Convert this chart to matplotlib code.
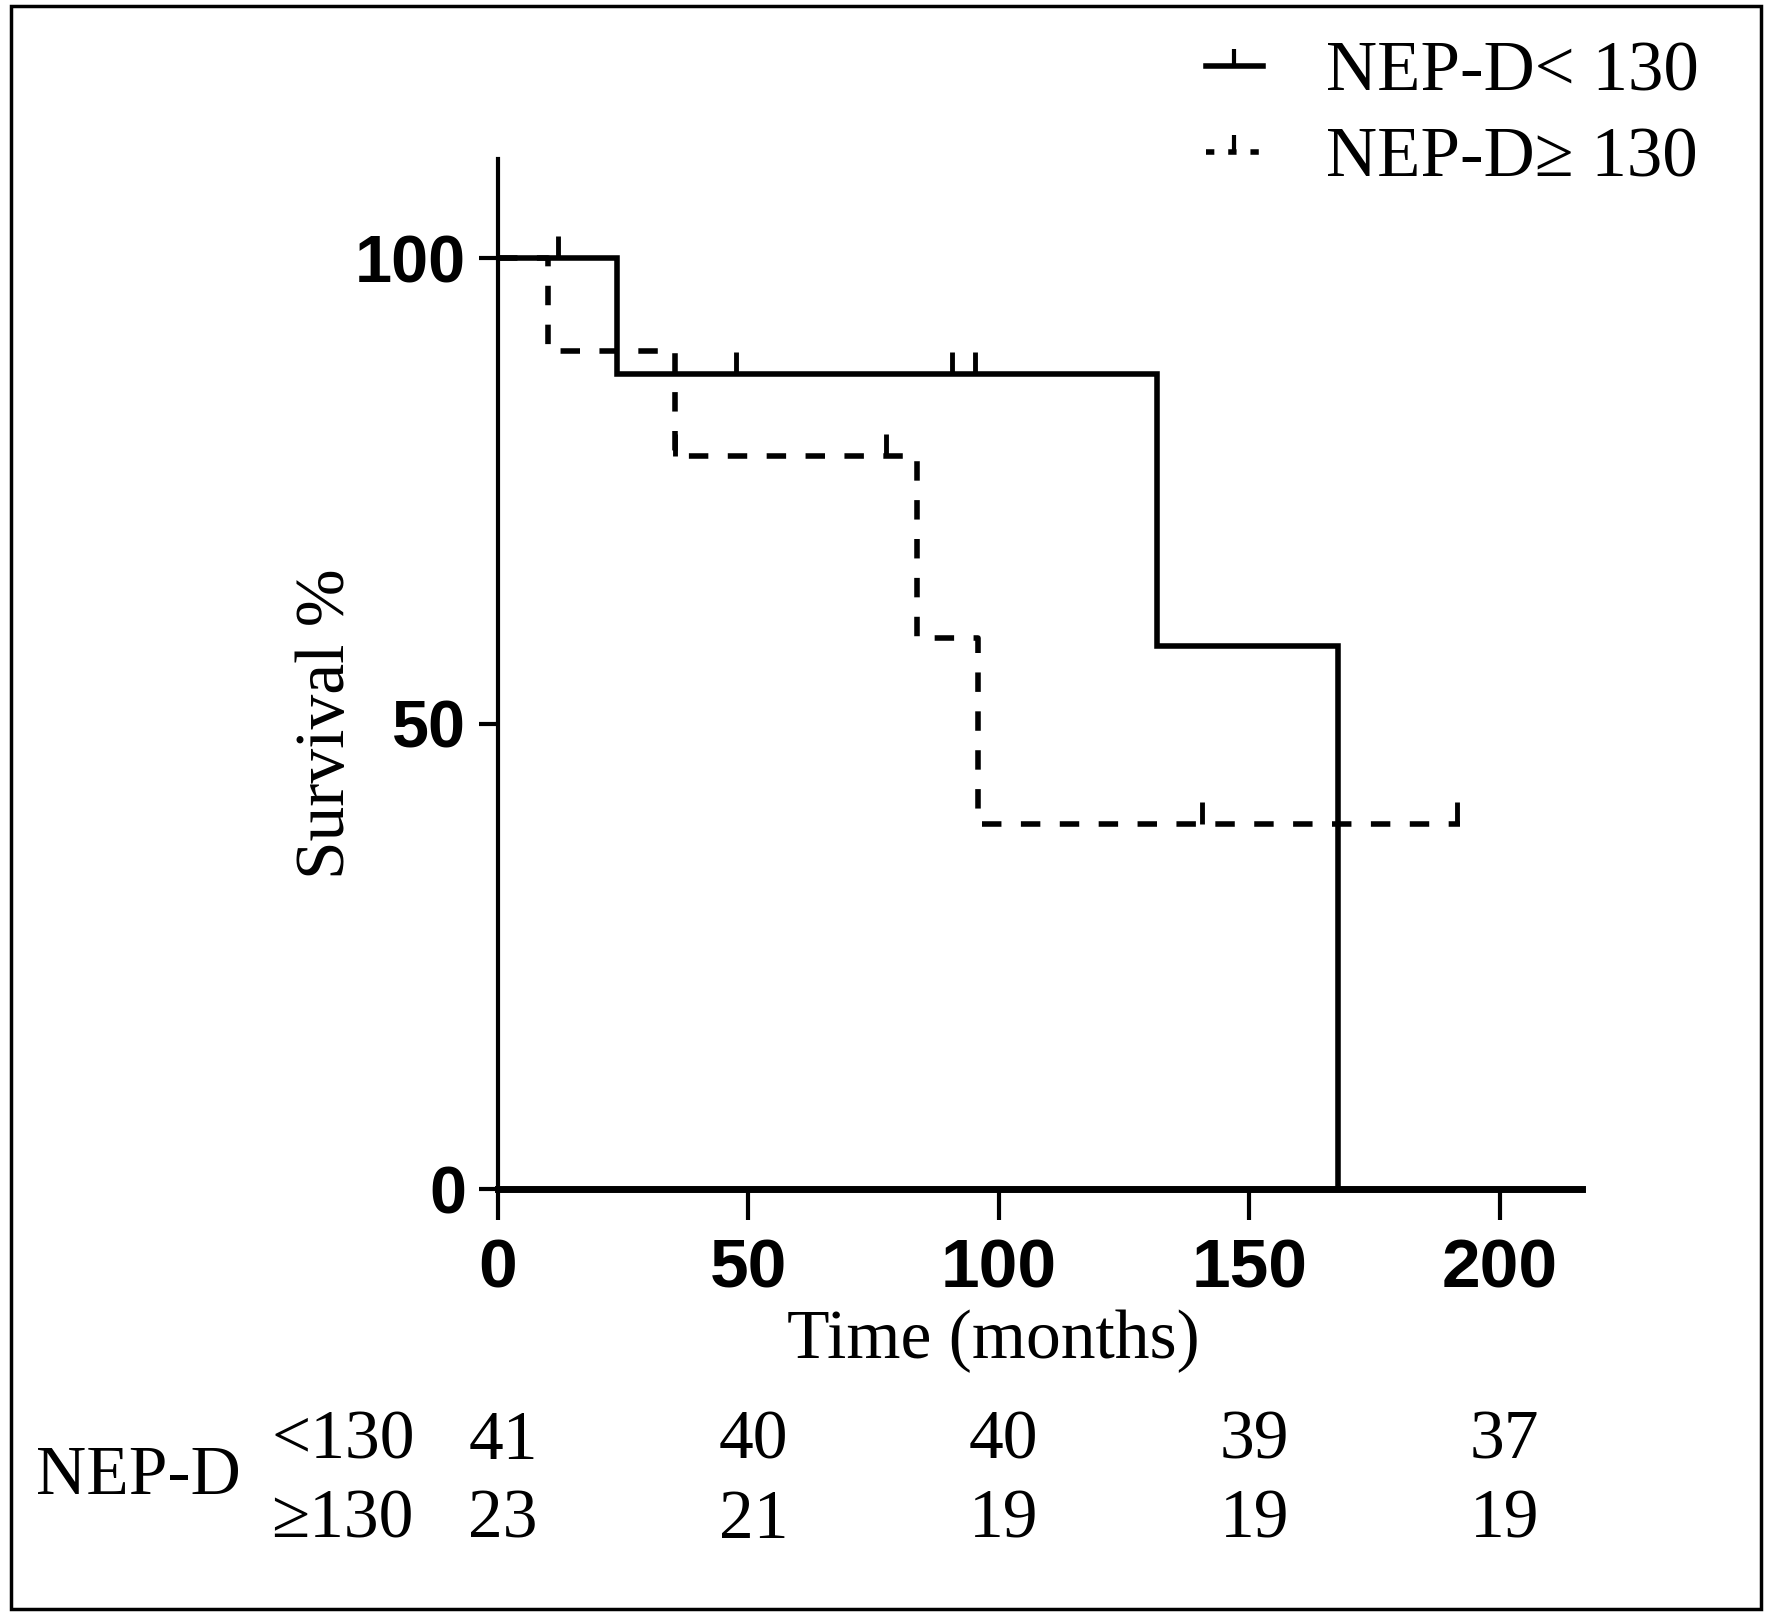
import numpy as np
import matplotlib
matplotlib.use("Agg")
import matplotlib.pyplot as plt
from matplotlib.path import Path
from matplotlib.lines import Line2D
from matplotlib.patches import Rectangle
from matplotlib.transforms import blended_transform_factory
from matplotlib import font_manager

# Kaplan-Meier steps (months, survival %)
low_times = [0, 23.8, 131.6, 167.8]
low_surv = [100, 87.6, 58.3, 0]
low_censor = [12, 47.6, 90.7, 95.3]

high_times = [0, 10, 35.3, 83.7, 95.8, 192]
high_surv = [100, 90.0, 78.8, 59.2, 39.2, 39.2]
high_censor = [35.3, 77.5, 140.5, 191.5]

risk_times = [0, 50, 100, 150, 200]
risk_low = [41, 40, 40, 39, 37]
risk_high = [23, 21, 19, 19, 19]

x_ticks = [0, 50, 100, 150, 200]
y_ticks = [0, 50, 100]

serif = ['Liberation Serif', 'DejaVu Serif']
names = {f.name for f in font_manager.fontManager.ttflist}
narrow = 'Liberation Sans Narrow' if 'Liberation Sans Narrow' in names else 'Liberation Sans'


def level_at(times, surv, t):
    """survival value of a step curve at time t"""
    i = np.searchsorted(times, t, side='right') - 1
    return surv[i]


# upward censor tick
tick_mark = Path([(0, 0), (0, 1)])

fig = plt.figure(figsize=(17.72, 16.2), dpi=100)
ax = fig.add_axes([0.281, 0.266, 0.612, 0.636])

ax.step(low_times, low_surv, where='post', color='black', lw=4, solid_joinstyle='miter')
ax.step(high_times, high_surv, where='post', color='black', lw=4, linestyle=(0, (3.5, 3.5)))

ax.plot(low_censor, [level_at(low_times, low_surv, t) for t in low_censor],
        linestyle='none', marker=tick_mark, markersize=32, markeredgewidth=3.5, color='black')
ax.plot(high_censor, [level_at(high_times, high_surv, t) for t in high_censor],
        linestyle='none', marker=tick_mark, markersize=32, markeredgewidth=3.5, color='black')

ax.set_xlim(0, 216.5)
ax.set_ylim(0, 110.7)
ax.spines['top'].set_visible(False)
ax.spines['right'].set_visible(False)
ax.spines['bottom'].set_linewidth(5)
ax.spines['left'].set_linewidth(3)
ax.set_xticks(x_ticks)
ax.set_yticks(y_ticks)
ax.tick_params(axis='x', length=22, width=3, pad=13, labelsize=50)
ax.tick_params(axis='y', length=14, width=3, pad=9, labelsize=48)
for lab in ax.get_xticklabels() + ax.get_yticklabels():
    lab.set_fontfamily(narrow)
    lab.set_fontweight('bold')

ax.set_xlabel("Time (months)", family=serif, fontsize=50, va='center')
ax.xaxis.set_label_coords(0.457, -0.148)
ax.set_ylabel("Survival %", family=serif, fontsize=50, va='center')
ax.yaxis.set_label_coords(-0.157, 0.452)

# legend
handles = [
    Line2D([], [], color='black', lw=4, marker=tick_mark, markersize=24, markeredgewidth=3),
    Line2D([], [], color='black', lw=4, linestyle=(0, (1.5, 2.5)), marker=tick_mark,
           markersize=24, markeredgewidth=3),
]
fig.legend(handles, ["NEP-D< 130", "NEP-D\u2265 130"], loc='upper left',
           bbox_to_anchor=(0.6806, 0.975), frameon=False, borderpad=0, borderaxespad=0,
           handlelength=0.8, handletextpad=0.9, labelspacing=0.3,
           prop={'family': serif, 'size': 51})

# number at risk table
tr = blended_transform_factory(ax.transData, fig.transFigure)
fig.text(0.078, 0.088, "NEP-D", family=serif, fontsize=50, ha='center', va='center')
fig.text(0.153, 0.110, "<130", family=serif, fontsize=50, ha='left', va='center')
fig.text(0.153, 0.061, "\u2265130", family=serif, fontsize=50, ha='left', va='center')
for t, a, b in zip(risk_times, risk_low, risk_high):
    ax.text(t + 1, 0.110, str(a), transform=tr, family=serif, fontsize=50,
            ha='center', va='center', clip_on=False)
    ax.text(t + 1, 0.061, str(b), transform=tr, family=serif, fontsize=50,
            ha='center', va='center', clip_on=False)

# outer frame
fig.patches.append(Rectangle((0.006, 0.007), 0.988, 0.989, transform=fig.transFigure,
                             fill=False, edgecolor='black', lw=2.5))

fig.savefig("out.png", dpi=100)
